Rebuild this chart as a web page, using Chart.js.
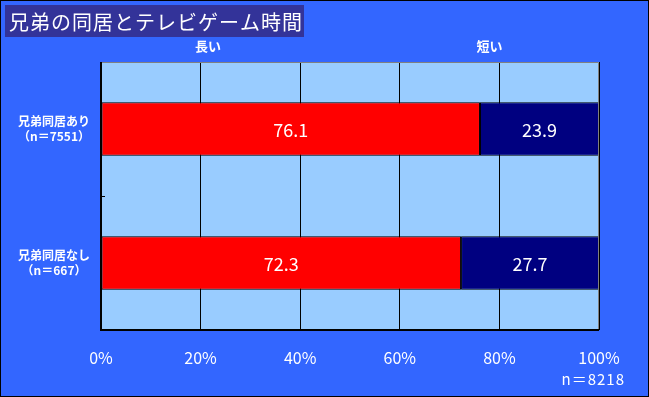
<!DOCTYPE html>
<html>
<head>
<meta charset="utf-8">
<script src="https://cdn.jsdelivr.net/npm/chart.js@4"></script>
<style>
    html, body { margin: 0; padding: 0; background: #3366ff; }
    #wrap { width: 649px; height: 397px; }
</style>
</head>
<body>
<div id="wrap"><canvas id="gameChart" width="649" height="397"></canvas></div>
<script>
const judul = "兄弟の同居とテレビゲーム時間";
const kategori = [["兄弟同居あり", "（n＝7551）"], ["兄弟同居なし", "（n＝667）"]];
const seriLabel = ["長い", "短い"];
const nilaiPanjang = [76.1, 72.3];
const nilaiPendek = [23.9, 27.7];
const tickPersen = [0, 20, 40, 60, 80, 100];
const catatanN = "n＝8218";

const fontJp = "'Noto Sans CJK JP', 'Noto Sans', sans-serif";

document.addEventListener("DOMContentLoaded", function () {
    const area = document.getElementById("gameChart");
    if (!area) return;

    const hiasan = {
        id: "hiasan",
        beforeDraw(chart) {
            const { ctx, chartArea: a } = chart;
            ctx.save();
            ctx.fillStyle = "#3366ff";
            ctx.fillRect(0, 0, chart.width, chart.height);
            ctx.fillStyle = "#99ccff";
            ctx.fillRect(a.left, a.top, a.right - a.left, a.bottom - a.top);
            ctx.restore();
        },
        afterDraw(chart) {
            const { ctx, chartArea: a } = chart;
            ctx.save();
            // plot frame: grey top/right, black left/bottom
            ctx.lineWidth = 1;
            ctx.strokeStyle = "#808080";
            ctx.beginPath();
            ctx.moveTo(a.left, a.top + 0.5);
            ctx.lineTo(a.right - 0.5, a.top + 0.5);
            ctx.lineTo(a.right - 0.5, a.bottom);
            ctx.stroke();
            ctx.strokeStyle = "#000000";
            ctx.lineWidth = 2;
            ctx.beginPath();
            ctx.moveTo(a.left, a.top);
            ctx.lineTo(a.left, a.bottom);
            ctx.lineTo(a.right, a.bottom);
            ctx.stroke();
            // small inward tick between the two categories
            const yMid = Math.round(chart.scales.y.getPixelForValue(0.5)) + 0.5;
            ctx.lineWidth = 1;
            ctx.beginPath();
            ctx.moveTo(a.left, yMid);
            ctx.lineTo(a.left + 4, yMid);
            ctx.stroke();

            // title box
            ctx.fillStyle = "#333399";
            ctx.fillRect(5, 5, 299, 32);
            ctx.fillStyle = "#ffffff";
            ctx.font = "20px " + fontJp;
            ctx.textAlign = "left";
            ctx.textBaseline = "middle";
            ctx.letterSpacing = "1px";
            ctx.fillText(judul, 9, 22);
            ctx.letterSpacing = "0px";

            // series names above the plot
            const x = chart.scales.x;
            ctx.font = "bold 13px " + fontJp;
            ctx.textAlign = "center";
            ctx.fillText(seriLabel[0], x.getPixelForValue(21.5), 46);
            ctx.fillText(seriLabel[1], x.getPixelForValue(78), 46);

            // total n
            ctx.font = "15px " + fontJp;
            ctx.textAlign = "right";
            ctx.letterSpacing = "1px";
            ctx.fillText(catatanN, 625, 379);
            ctx.letterSpacing = "0px";

            // outer frame
            ctx.strokeStyle = "#000000";
            ctx.lineWidth = 1;
            ctx.strokeRect(0.5, 0.5, chart.width - 1, chart.height - 1);
            ctx.restore();
        },
        afterDatasetsDraw(chart) {
            const ctx = chart.ctx;
            ctx.save();
            ctx.fillStyle = "#ffffff";
            ctx.font = "18px " + fontJp;
            ctx.textAlign = "center";
            ctx.textBaseline = "middle";
            chart.data.datasets.forEach((ds, i) => {
                chart.getDatasetMeta(i).data.forEach((bar, j) => {
                    const cx = (bar.x + bar.base) / 2;
                    ctx.fillText(ds.data[j].toFixed(1), cx, bar.y + 1);
                });
            });
            ctx.restore();
        }
    };

    new Chart(area.getContext("2d"), {
        type: "bar",
        data: {
            labels: kategori,
            datasets: [
                {
                    label: seriLabel[0],
                    data: nilaiPanjang,
                    backgroundColor: "#ff0000",
                    borderColor: "#000000",
                    borderWidth: 1,
                    borderSkipped: false,
                },
                {
                    label: seriLabel[1],
                    data: nilaiPendek,
                    backgroundColor: "#000080",
                    borderColor: "#000000",
                    borderWidth: 1,
                    borderSkipped: false,
                },
            ],
        },
        options: {
            indexAxis: "y",
            responsive: false,
            animation: false,
            layout: { padding: { top: 62, right: 50, left: 0, bottom: 0 } },
            categoryPercentage: 0.4,
            barPercentage: 1,
            scales: {
                x: {
                    stacked: true,
                    min: 0,
                    max: 100,
                    afterBuildTicks: (s) => { s.ticks = tickPersen.map(v => ({ value: v })); },
                    afterFit: (s) => { s.height = 67; },
                    grid: { color: "#000000", lineWidth: 1, drawTicks: false },
                    border: { display: false },
                    ticks: {
                        color: "#ffffff",
                        padding: 18,
                        font: { family: fontJp, size: 16 },
                        callback: (v) => v + "%",
                    },
                },
                y: {
                    stacked: true,
                    afterFit: (s) => { s.width = 101; },
                    grid: { display: false },
                    border: { display: false },
                    ticks: {
                        color: "#ffffff",
                        crossAlign: "center",
                        font: { family: fontJp, size: 12, weight: "bold", lineHeight: 1.2 },
                    },
                },
            },
            plugins: {
                legend: { display: false },
                tooltip: { enabled: false },
            },
        },
        plugins: [hiasan],
    });
});
</script>
</body>
</html>
